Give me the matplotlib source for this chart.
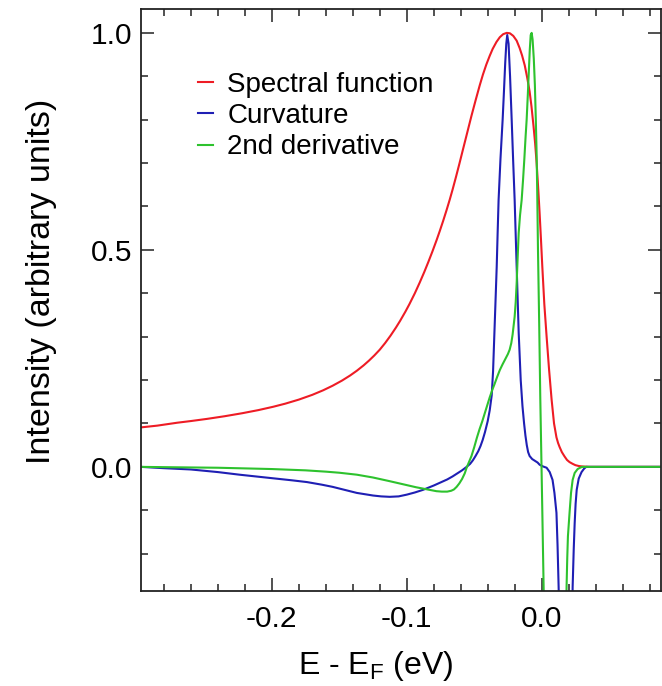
import numpy as np
import matplotlib
matplotlib.use('Agg')
import matplotlib.pyplot as plt
from matplotlib.ticker import MultipleLocator, FormatStrFormatter

plt.rcParams['font.family'] = ['Liberation Sans', 'DejaVu Sans']
plt.rcParams['mathtext.fontset'] = 'custom'
plt.rcParams['mathtext.rm'] = 'Liberation Sans'
plt.rcParams['axes.unicode_minus'] = False

# Values (E - EF in eV, normalised intensity)
spec_e = [-0.297, -0.285, -0.270, -0.260, -0.248, -0.235, -0.222, -0.210, -0.199,
          -0.190, -0.180, -0.170, -0.162, -0.155, -0.148, -0.142, -0.137, -0.132,
          -0.128, -0.124, -0.120, -0.116, -0.112, -0.108, -0.105, -0.101, -0.098,
          -0.094, -0.0904, -0.087, -0.084, -0.081, -0.0778, -0.0755, -0.073, -0.0705,
          -0.0681, -0.066, -0.0635, -0.061, -0.0585, -0.055, -0.052, -0.049, -0.0459,
          -0.0435, -0.041, -0.0385, -0.0363, -0.0335, -0.031, -0.0285, -0.0259, -0.0235,
          -0.021, -0.0185, -0.0163, -0.0145, -0.0125, -0.0107, -0.0089, -0.0075, -0.0060,
          -0.0048, -0.0037, -0.0025, -0.0015, -0.0005, 0.0005, 0.0020, 0.0037, 0.0055,
          0.0074, 0.0092, 0.011, 0.0122, 0.0133, 0.015, 0.017, 0.0188, 0.0207,
          0.023, 0.025, 0.0275, 0.030, 0.035, 0.090]
spec_i = [0.091, 0.095, 0.1018, 0.1056, 0.1106, 0.1167, 0.1236, 0.1308, 0.1385,
          0.1457, 0.155, 0.166, 0.1764, 0.1869, 0.1988, 0.2105, 0.2215, 0.2338,
          0.2448, 0.2568, 0.270, 0.2854, 0.3024, 0.321, 0.336, 0.3576, 0.375,
          0.400, 0.4245, 0.449, 0.472, 0.496, 0.523, 0.5435, 0.5668, 0.5913,
          0.616, 0.639, 0.668, 0.698, 0.729, 0.772, 0.809, 0.844, 0.879,
          0.904, 0.927, 0.947, 0.963, 0.979, 0.990, 0.997, 1.000, 0.999,
          0.993, 0.982, 0.965, 0.948, 0.925, 0.897, 0.865, 0.830, 0.785,
          0.745, 0.700, 0.640, 0.585, 0.525, 0.462, 0.375, 0.300, 0.225,
          0.155, 0.100, 0.068, 0.055, 0.046, 0.034, 0.024, 0.016, 0.011,
          0.007, 0.004, 0.002, 0.001, 0.0, 0.0]

curv_e = [-0.297, -0.280, -0.260, -0.240, -0.224, -0.200, -0.185, -0.174, -0.163,
          -0.155, -0.146, -0.137, -0.131, -0.125, -0.119, -0.1126, -0.106, -0.100,
          -0.094, -0.088, -0.084, -0.080, -0.075, -0.070, -0.066, -0.063, -0.059,
          -0.0556, -0.053, -0.051, -0.049, -0.047, -0.0453, -0.0437, -0.042, -0.040,
          -0.0385, -0.037, -0.036, -0.035, -0.0342, -0.0333, -0.0326, -0.0319, -0.0305,
          -0.0289, -0.0280, -0.0270, -0.0262, -0.0255, -0.0245, -0.0234, -0.0222, -0.0211,
          -0.0200, -0.0185, -0.0170, -0.0155, -0.0142, -0.0130, -0.0120, -0.0110, -0.0100,
          -0.0089, -0.0070, -0.0050, -0.0030, -0.0015, 0.0010, 0.0037, 0.0060, 0.0081,
          0.0095, 0.0110, 0.0118, 0.0126, 0.0135, 0.0180, 0.0225, 0.0230, 0.0238,
          0.0245, 0.0252, 0.0260, 0.0275, 0.0296, 0.0315, 0.0330, 0.0900]
curv_i = [0.0, -0.003, -0.006, -0.012, -0.018, -0.026, -0.031, -0.035, -0.041,
          -0.046, -0.053, -0.060, -0.063, -0.066, -0.068, -0.069, -0.068, -0.064,
          -0.059, -0.053, -0.048, -0.043, -0.036, -0.029, -0.022, -0.016, -0.008,
          0.0, 0.007, 0.015, 0.025, 0.036, 0.048, 0.062, 0.080, 0.105,
          0.130, 0.165, 0.220, 0.309, 0.380, 0.461, 0.540, 0.615, 0.710,
          0.800, 0.860, 0.930, 0.975, 0.995, 0.975, 0.900, 0.800, 0.705,
          0.615, 0.461, 0.309, 0.200, 0.140, 0.100, 0.072, 0.050, 0.034,
          0.025, 0.018, 0.014, 0.010, 0.005, 0.001, -0.002, -0.012, -0.030,
          -0.060, -0.106, -0.180, -0.276, -0.400, -1.000, -0.400, -0.276, -0.190,
          -0.130, -0.085, -0.053, -0.027, -0.012, -0.004, 0.0, 0.0]

deriv_e = [-0.297, -0.270, -0.240, -0.220, -0.200, -0.175, -0.160, -0.150, -0.137, -0.125,
           -0.1126, -0.100, -0.093, -0.088, -0.083, -0.078, -0.074, -0.070, -0.067,
           -0.065, -0.063, -0.061, -0.059, -0.057, -0.0556, -0.054, -0.052, -0.050,
           -0.048, -0.046, -0.0440, -0.0425, -0.0407, -0.0385, -0.0365, -0.0350, -0.033,
           -0.031, -0.029, -0.0270, -0.0250, -0.0237, -0.0225, -0.0215, -0.020, -0.0192,
           -0.0185, -0.0178, -0.017, -0.0160, -0.0148, -0.0138, -0.0128, -0.0119, -0.0111,
           -0.0102, -0.0095, -0.0088, -0.0081, -0.0074, -0.0067, -0.0058, -0.0050, -0.0043,
           -0.0037, -0.0032, -0.0027, -0.0018, -0.0010, 0.0005, 0.0015, 0.0020, 0.0100,
           0.0180, 0.0185, 0.0190, 0.0195, 0.0207, 0.0218, 0.0230, 0.0245, 0.0267,
           0.0285, 0.0300, 0.0900]
deriv_i = [0.0, -0.001, -0.002, -0.0035, -0.005, -0.008, -0.011, -0.0135, -0.018, -0.0245,
           -0.033, -0.042, -0.047, -0.050, -0.053, -0.056, -0.057, -0.057, -0.055,
           -0.052, -0.046, -0.038, -0.028, -0.015, -0.002, 0.010, 0.025, 0.045,
           0.067, 0.087, 0.105, 0.120, 0.138, 0.160, 0.178, 0.190, 0.207,
           0.223, 0.236, 0.248, 0.260, 0.270, 0.285, 0.305, 0.346, 0.380,
           0.424, 0.480, 0.539, 0.580, 0.615, 0.660, 0.710, 0.760, 0.800,
           0.860, 0.910, 0.960, 0.995, 1.000, 0.985, 0.940, 0.880, 0.800,
           0.720, 0.620, 0.500, 0.330, 0.160, -0.100, -0.280, -0.400, -1.000,
           -0.400, -0.276, -0.210, -0.160, -0.106, -0.060, -0.030, -0.014, -0.005,
           -0.002, 0.0, 0.0]

series = [
    ('Spectral function', spec_e, spec_i, '#ee1c25'),
    ('Curvature', curv_e, curv_i, '#1f1fb4'),
    ('2nd derivative', deriv_e, deriv_i, '#2ec22e'),
]

fig = plt.figure(figsize=(6.62, 6.86), dpi=100)
ax = fig.add_axes([141 / 662, 1 - 591 / 686, 520 / 662, 582 / 686])

for label, e, i, col in series:
    ax.plot(e, i, color=col, lw=1.5, label=label, solid_joinstyle='round')

ax.set_xlim(-0.297, 0.0885)
ax.set_ylim(-0.286, 1.055)

ax.xaxis.set_major_locator(MultipleLocator(0.1))
ax.xaxis.set_minor_locator(MultipleLocator(0.02))
ax.yaxis.set_major_locator(MultipleLocator(0.5))
ax.yaxis.set_minor_locator(MultipleLocator(0.1))
ax.xaxis.set_major_formatter(FormatStrFormatter('%.1f'))
ax.yaxis.set_major_formatter(FormatStrFormatter('%.1f'))

ax.tick_params(which='both', direction='in', top=True, right=True, width=1.1,
               color='#222222', labelsize=21.5)
ax.tick_params(which='major', length=9.5)
ax.tick_params(which='minor', length=5)
ax.tick_params(axis='x', which='major', pad=10)
ax.tick_params(axis='y', which='major', pad=6)
for sp in ax.spines.values():
    sp.set_linewidth(1.3)
    sp.set_color('#222222')

ax.set_xlabel('E - E$_\\mathrm{F}$ (eV)', fontsize=23)
ax.xaxis.set_label_coords(0.452, -0.100)
ax.set_ylabel('Intensity (arbitrary units)', fontsize=24.5)
ax.yaxis.set_label_coords(-0.162, 0.532)

leg = ax.legend(loc='upper left', bbox_to_anchor=(0.11, 0.892), frameon=False,
                fontsize=20, handlelength=0.55, handletextpad=0.5,
                labelspacing=0.19, borderaxespad=0, borderpad=0)

fig.savefig('out.png', dpi=100)
